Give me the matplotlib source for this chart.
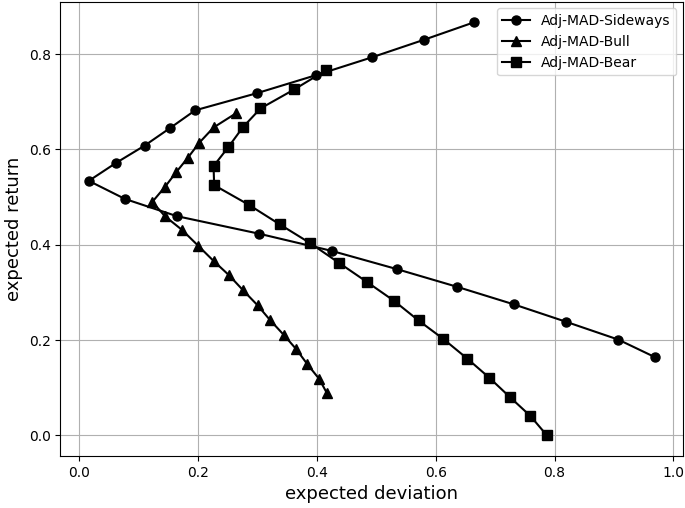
import numpy as np
import matplotlib
matplotlib.use("Agg")
import matplotlib.pyplot as plt

# expected deviation / expected return for each frontier
sideways_dev = [0.665, 0.580, 0.492, 0.399, 0.299, 0.195, 0.153, 0.110, 0.061, 0.016,
                0.077, 0.164, 0.303, 0.425, 0.534, 0.635, 0.731, 0.820, 0.907, 0.969]
sideways_ret = [0.867, 0.830, 0.793, 0.756, 0.718, 0.682, 0.645, 0.608, 0.571, 0.534,
                0.496, 0.460, 0.423, 0.387, 0.349, 0.312, 0.275, 0.238, 0.201, 0.164]

bull_dev = [0.264, 0.226, 0.202, 0.183, 0.163, 0.144, 0.123, 0.144, 0.173, 0.200,
            0.226, 0.252, 0.276, 0.300, 0.321, 0.344, 0.365, 0.384, 0.404, 0.417]
bull_ret = [0.676, 0.646, 0.614, 0.583, 0.552, 0.521, 0.490, 0.460, 0.431, 0.398,
            0.366, 0.336, 0.304, 0.273, 0.242, 0.211, 0.181, 0.149, 0.118, 0.088]

bear_dev = [0.415, 0.362, 0.305, 0.275, 0.251, 0.226, 0.227, 0.285, 0.337, 0.389,
            0.437, 0.484, 0.530, 0.571, 0.613, 0.653, 0.690, 0.725, 0.759, 0.787]
bear_ret = [0.766, 0.726, 0.686, 0.646, 0.605, 0.565, 0.525, 0.484, 0.443, 0.403,
            0.362, 0.322, 0.282, 0.241, 0.202, 0.161, 0.121, 0.080, 0.041, 0.000]

fig = plt.figure(figsize=(6.85, 5.08), dpi=100)
ax = fig.add_axes([0.0883, 0.1024, 0.9092, 0.8946])

ax.plot(sideways_dev, sideways_ret, 'k-o', lw=1.5, ms=6.5, label='Adj-MAD-Sideways')
ax.plot(bull_dev, bull_ret, 'k-^', lw=1.5, ms=6.5, label='Adj-MAD-Bull')
ax.plot(bear_dev, bear_ret, 'k-s', lw=1.5, ms=6.5, label='Adj-MAD-Bear')

ax.set_xlabel('expected deviation', fontsize=13)
ax.set_ylabel('expected return', fontsize=13)
ax.grid(True)
ax.legend(loc='upper right', fontsize=10)

fig.savefig('out.png', dpi=100)
